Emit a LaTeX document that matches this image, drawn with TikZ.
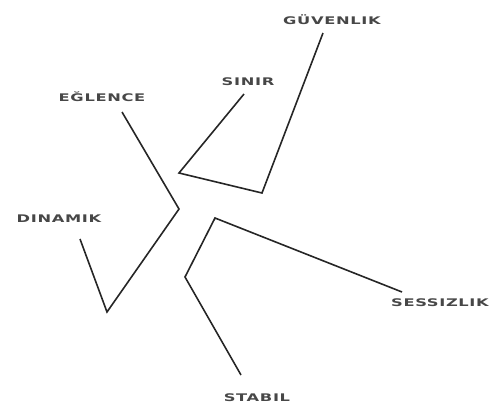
\documentclass[tikz,border=0pt]{standalone}
\usepackage{fontspec}
\setmainfont{DejaVu Sans}[LetterSpace=4,UprightFont=*,BoldFont=* Bold]
\newcommand{\widetxt}[1]{\scalebox{1.55}[1]{#1}}
\begin{document}
\begin{tikzpicture}[x=1pt,y=-1pt,
  lbl/.style={text=black!72,font=\bfseries\fontsize{10.5}{12}\selectfont,inner sep=0pt,anchor=center},
  wire/.style={line width=1.6pt,black!85,line join=miter}]
\useasboundingbox (0,0) rectangle (499,410);
% labels
\node[lbl] (guv) at (332,20) {\widetxt{GÜVENLIK}};
\node[lbl] (sin) at (248,82) {\widetxt{SINIR}};
\node[lbl] (egl) at (102,97) {\widetxt{EĞLENCE}};
\node[lbl] (din) at (59,219) {\widetxt{DINAMIK}};
\node[lbl] (ses) at (440,303) {\widetxt{SESSIZLIK}};
\node[lbl] (sta) at (257,398) {\widetxt{STABIL}};
% path points
\coordinate (s1) at (244,94);
\coordinate (s2) at (179,173);
\coordinate (g2) at (262,193);
\coordinate (g1) at (323,33);
\coordinate (e1) at (122,112);
\coordinate (e2) at (179,209);
\coordinate (d2) at (107,312);
\coordinate (d1) at (80,239);
\coordinate (z1) at (402,292);
\coordinate (z2) at (215,218);
\coordinate (t2) at (185,277);
\coordinate (t1) at (241,375);
% connectors
\draw[wire] (s1) -- (s2) -- (g2) -- (g1);
\draw[wire] (e1) -- (e2) -- (d2) -- (d1);
\draw[wire] (z1) -- (z2) -- (t2) -- (t1);
\end{tikzpicture}
\end{document}
